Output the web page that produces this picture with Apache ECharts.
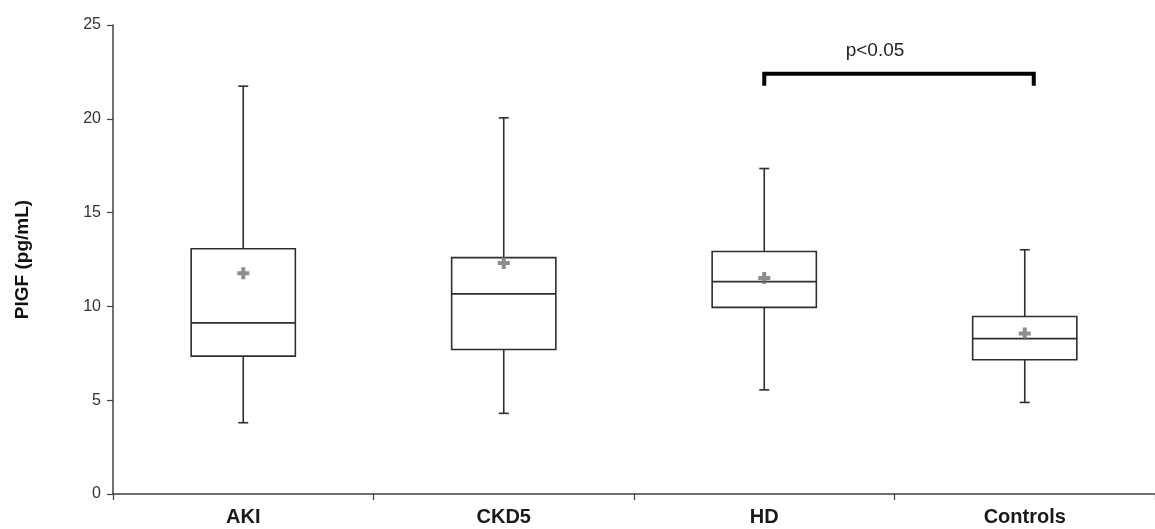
<!DOCTYPE html>
<html>
<head>
<meta charset="utf-8">
<script src="https://cdn.jsdelivr.net/npm/echarts@6/dist/echarts.min.js"></script>
<style>
html,body{margin:0;padding:0;background:#fff;}
#chart{width:1155px;height:529px;}
</style>
</head>
<body>
<div id="chart"></div>
<script>
// ---- data ----
const categories = ['AKI', 'CKD5', 'HD', 'Controls'];
const whiskerLow  = [3.8, 4.3, 5.55, 4.88];
const q1          = [7.35, 7.7, 9.95, 7.16];
const median      = [9.12, 10.67, 11.32, 8.28];
const q3          = [13.07, 12.6, 12.93, 9.46];
const whiskerHigh = [21.74, 20.05, 17.35, 13.02];
const means       = [11.77, 12.32, 11.52, 8.56];
const yMin = 0, yMax = 25, yInterval = 5;
const yAxisName = 'PlGF (pg/mL)';
const sigFrom = 'HD', sigTo = 'Controls', sigLevel = 22.4, sigText = 'p<0.05';

// ---- build ----
const boxData = categories.map((c, i) => [i, whiskerLow[i], q1[i], median[i], q3[i], whiskerHigh[i]]);
const meanData = categories.map((c, i) => [i, means[i]]);
const sigData = [[categories.indexOf(sigFrom), categories.indexOf(sigTo), sigLevel]];

const lineColor = '#2e2e2e';

function renderBox(params, api) {
  const idx = api.value(0);
  const pLow = api.coord([idx, api.value(1)]);
  const pQ1 = api.coord([idx, api.value(2)]);
  const pMed = api.coord([idx, api.value(3)]);
  const pQ3 = api.coord([idx, api.value(4)]);
  const pHigh = api.coord([idx, api.value(5)]);
  const bandW = api.size([1, 0])[0];
  const halfBox = bandW * 0.2;
  const halfCap = 5;
  const x = pMed[0];
  const st = { stroke: lineColor, lineWidth: 1.6, fill: null };
  return {
    type: 'group',
    children: [
      { type: 'line', shape: { x1: x, y1: pHigh[1], x2: x, y2: pQ3[1] }, style: st },
      { type: 'line', shape: { x1: x, y1: pQ1[1], x2: x, y2: pLow[1] }, style: st },
      { type: 'line', shape: { x1: x - halfCap, y1: pHigh[1], x2: x + halfCap, y2: pHigh[1] }, style: st },
      { type: 'line', shape: { x1: x - halfCap, y1: pLow[1], x2: x + halfCap, y2: pLow[1] }, style: st },
      { type: 'rect', shape: { x: x - halfBox, y: pQ3[1], width: halfBox * 2, height: pQ1[1] - pQ3[1] }, style: { stroke: lineColor, lineWidth: 1.6, fill: '#ffffff' } },
      { type: 'line', shape: { x1: x - halfBox, y1: pMed[1], x2: x + halfBox, y2: pMed[1] }, style: st }
    ]
  };
}

function renderSig(params, api) {
  const a = api.coord([api.value(0), api.value(2)]);
  const b = api.coord([api.value(1), api.value(2)]);
  const drop = 12;
  const x1 = a[0], x2 = b[0] + 9, y = a[1];
  return {
    type: 'group',
    children: [
      { type: 'polyline', shape: { points: [[x1, y + drop], [x1, y], [x2, y], [x2, y + drop]] },
        style: { stroke: '#000', lineWidth: 4, fill: null, lineJoin: 'miter' } },
      { type: 'text', x: (x1 + x2) / 2 - 24, y: y - 23,
        style: { text: sigText, fill: '#222', font: '19px "Liberation Sans", Arial, sans-serif', align: 'center', verticalAlign: 'middle' } }
    ]
  };
}

const chart = echarts.init(document.getElementById('chart'), null, { renderer: 'canvas' });
chart.setOption({
  backgroundColor: '#ffffff',
  animation: false,
  grid: { left: 113, top: 25, width: 1046, bottom: 35, containLabel: false },
  xAxis: {
    type: 'category',
    data: categories,
    boundaryGap: true,
    axisLine: { lineStyle: { color: '#404040', width: 1.5 } },
    axisTick: { show: true, length: 6, lineStyle: { color: '#404040', width: 1.2 } },
    axisLabel: { color: '#1a1a1a', fontSize: 20, fontWeight: 'bold', fontFamily: '"Liberation Sans", Arial, sans-serif', margin: 13 },
    splitLine: { show: false }
  },
  yAxis: {
    type: 'value',
    min: yMin, max: yMax, interval: yInterval,
    name: yAxisName,
    nameLocation: 'middle',
    nameGap: 81,
    nameRotate: 90,
    nameTextStyle: { color: '#111', fontSize: 19, fontWeight: 'bold', fontFamily: '"Liberation Sans", Arial, sans-serif' },
    axisLine: { show: true, lineStyle: { color: '#404040', width: 1.5 } },
    axisTick: { show: true, length: 6, lineStyle: { color: '#404040', width: 1.2 } },
    axisLabel: { color: '#333', fontSize: 16, fontFamily: '"Liberation Sans", Arial, sans-serif', margin: 12 },
    splitLine: { show: false }
  },
  series: [
    { type: 'custom', renderItem: renderBox, data: boxData, encode: { x: 0, y: [1, 2, 3, 4, 5] }, z: 2 },
    { type: 'scatter', data: meanData, symbol: 'path://M4,0H8V4H12V8H8V12H4V8H0V4H4Z', symbolSize: 12,
      itemStyle: { color: '#707070' }, z: 3 },
    { type: 'custom', renderItem: renderSig, data: sigData, encode: { x: [0, 1], y: 2 }, z: 4 }
  ]
});
</script>
</body>
</html>
